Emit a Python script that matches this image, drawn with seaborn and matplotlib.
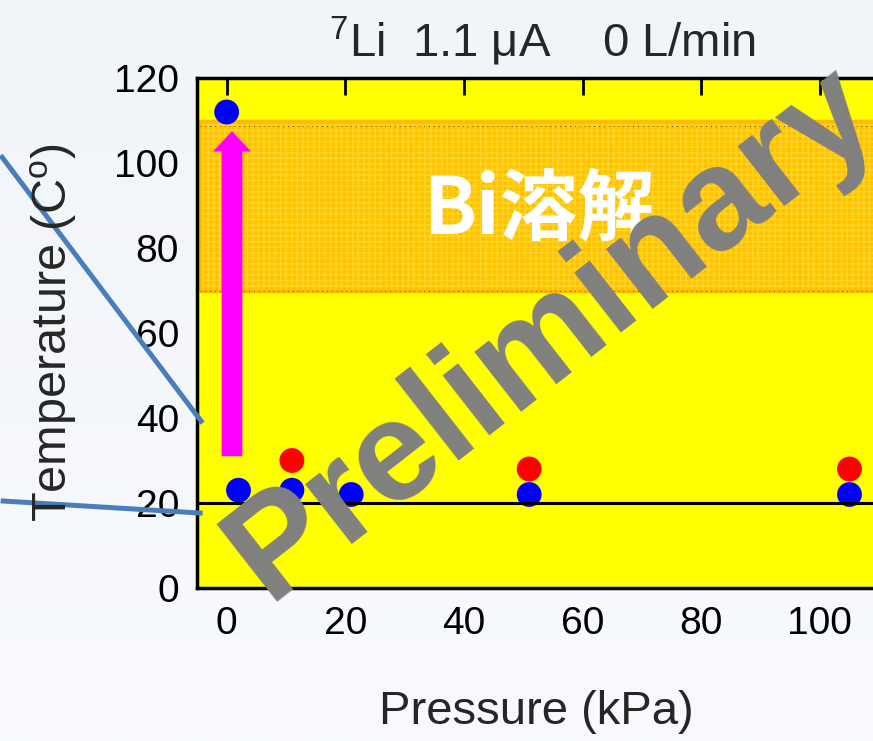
import numpy as np
import pandas as pd
import matplotlib
matplotlib.use("Agg")
import matplotlib.pyplot as plt
from matplotlib.patches import Rectangle, FancyArrow
import seaborn as sns

# ---- data -------------------------------------------------------------
pressure_blue = [0, 2, 11, 21, 51, 105]
temp_blue = [112, 23, 23, 22, 22, 22]
pressure_red = [11, 51, 105]
temp_red = [30, 28, 28]

reference_temp = 20            # horizontal reference line
band_low, band_high = 70, 110  # Bi melting range
band_label = "Bi溶解"

arrow_x = 0.9
arrow_from, arrow_to = 31, 107.5

x_ticks = [0, 20, 40, 60, 80, 100]
y_ticks = [0, 20, 40, 60, 80, 100, 120]

callout_upper_x = [-38.1, -4.05]
callout_upper_y = [101.8, 38.8]
callout_lower_x = [-38.1, -4.05]
callout_lower_y = [20.5, 17.6]

title = r"$\mathregular{^{7}}$Li  1.1 μA    0 L/min"
xlabel = "Pressure (kPa)"
ylabel = r"Temperature (C$\mathregular{^{o}}$)"
watermark = "Preliminary"

df = pd.DataFrame({
    "pressure": pressure_blue + pressure_red,
    "temp": temp_blue + temp_red,
    "series": ["blue"] * len(pressure_blue) + ["red"] * len(pressure_red),
})

# ---- style ------------------------------------------------------------
sns.set_style("white")
plt.rcParams["font.family"] = ["Liberation Sans", "DejaVu Sans"]
plt.rcParams["mathtext.fontset"] = "custom"
plt.rcParams["mathtext.rm"] = "Liberation Sans"
plt.rcParams["hatch.linewidth"] = 1.0

W, H = 873, 741
fig = plt.figure(figsize=(W / 100, H / 100), dpi=100)

# soft slide background
bg = fig.add_axes([0, 0, 1, 1], zorder=-5)
grad = np.linspace(0, 1, 256).reshape(-1, 1)
bg.imshow(grad, aspect="auto", cmap=matplotlib.colors.LinearSegmentedColormap.from_list(
    "bg", ["#F1F4F8", "#F8FAFD"]), extent=[0, 1, 0, 1], origin="upper")
bg.set_axis_off()

ax = fig.add_axes([197 / W, 153 / H, 694 / W, 510 / H])
ax.set_facecolor("#FFFF00")
ax.set_xlim(-5, 112)
ax.set_ylim(0, 120)

# melting band
x0, x1 = -4.5, 112
ax.add_patch(Rectangle((x0, band_low), x1 - x0, band_high - band_low,
                       facecolor="#FFC200", edgecolor="none", zorder=1))
ax.add_patch(Rectangle((x0, band_low), x1 - x0, band_high - band_low,
                       facecolor="none", edgecolor="#FFD628", lw=0, hatch="+++", zorder=1.1))
ax.add_patch(Rectangle((x0, band_low), x1 - x0, band_high - band_low,
                       facecolor="none", edgecolor="#FFBA00", lw=2.5, zorder=1.2))
for yy in (band_low, band_high - 1.4):
    ax.axhline(yy, xmin=0.005, color="black", lw=0.7, ls=(0, (1, 4)), alpha=0.6, zorder=1.3)

ax.text(52.8, 88.8, band_label, family=["Noto Sans CJK JP"], weight="bold",
        fontsize=56, color="white", ha="center", va="center", zorder=2)

# heating arrow
ax.add_patch(FancyArrow(arrow_x, arrow_from, 0, arrow_to - arrow_from,
                        width=3.5, head_width=6.4, head_length=4.8,
                        length_includes_head=True, color="#FF00FF", lw=0, zorder=3))

sns.scatterplot(data=df, x="pressure", y="temp", hue="series",
                palette={"blue": "#0000FF", "red": "#FF0000"},
                s=320, edgecolor="none", legend=False, ax=ax, zorder=4)

ax.axhline(reference_temp, color="black", lw=2.2, zorder=5)

# callout lines toward the axis
for cx, cy in ((callout_upper_x, callout_upper_y), (callout_lower_x, callout_lower_y)):
    ax.plot(cx, cy, color="#4A7EBB", lw=3.6, clip_on=False, zorder=6, solid_capstyle="butt")

ax.set_xticks(x_ticks)
ax.set_yticks(y_ticks)
ax.tick_params(direction="in", length=12, width=2, top=True, right=True,
               labelsize=28, pad=13, colors="black")
for sp in ax.spines.values():
    sp.set_linewidth(2.5)
    sp.set_color("black")
ax.set_xlabel("")
ax.set_ylabel("")

fig.text(542 / W, 1 - 57 / H, title, fontsize=34, ha="center", va="baseline")
fig.text(536 / W, 1 - 712 / H, xlabel, fontsize=34, ha="center", va="center")
fig.text(54 / W, 1 - 333 / H, ylabel, fontsize=35, rotation=90, ha="center", va="center")

fig.text(268 / W, 1 - 602 / H, watermark, rotation=38, rotation_mode="anchor",
         ha="left", va="baseline", fontsize=103, fontweight="bold",
         color="#808080", zorder=20)

fig.savefig("out.png", dpi=100)
